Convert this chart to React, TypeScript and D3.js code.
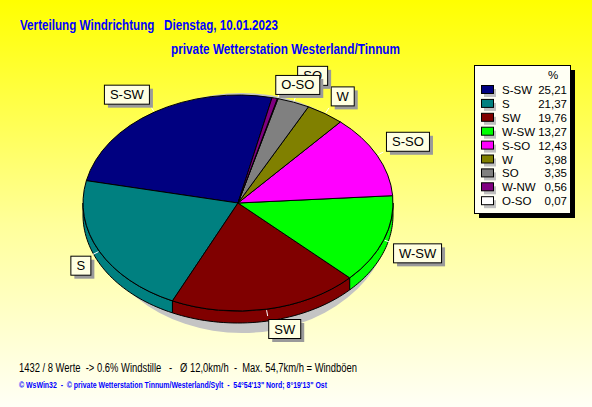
import * as d3 from 'd3';

// wind direction shares, in the order they run round the pie (counter-clockwise)
const directions = ['S-SW', 'S', 'SW', 'W-SW', 'S-SO', 'W', 'SO', 'O-SO', 'W-NW'];
const shares = [25.21, 21.37, 19.76, 13.27, 12.43, 3.98, 3.35, 0.07, 0.56];
const sliceColors = ['#000080', '#008080', '#800000', '#00ff00', '#ff00ff', '#808000', '#808080', '#ffffff', '#800080'];
// legend order (by share)
const legendOrder = ['S-SW', 'S', 'SW', 'W-SW', 'S-SO', 'W', 'SO', 'W-NW', 'O-SO'];
const pieLabels = ['S-SW', 'S', 'SW', 'W-SW', 'S-SO', 'W', 'SO', 'O-SO'];

const title1 = 'Verteilung Windrichtung   Dienstag, 10.01.2023';
const title2 = 'private Wetterstation Westerland/Tinnum';
const footer1 = '1432 / 8 Werte  -> 0.6% Windstille   -   Ø 12,0km/h  -  Max. 54,7km/h = Windböen';
const footer2 = '© WsWin32  -  © private Wetterstation Tinnum/Westerland/Sylt  -  54°54\'13" Nord; 8°19\'13" Ost';

const W = 592;
const H = 407;
const cx = 238;
const cy = 203;
const rx = 155;
const ry = 108;
const depth = 12;
const startDeg = 12.7;
const font = "'Liberation Sans', Arial, sans-serif";

let ctx: CanvasRenderingContext2D | null = null;
function textWidth(s: string, size: number) {
  if (!ctx) ctx = document.createElement('canvas').getContext('2d');
  if (!ctx) return s.length * size * 0.6;
  ctx.font = `${size}px ${font}`;
  return ctx.measureText(s).width;
}

const ex = (a: number, r = rx) => cx + r * Math.sin(a);
const ey = (a: number, r = ry) => cy - r * Math.cos(a);

export default function App() {
  const data = directions.map((d, i) => ({ dir: d, value: shares[i], color: sliceColors[i] }));
  const a0 = (startDeg * Math.PI) / 180;
  const arcs = d3
    .pie<{ dir: string; value: number; color: string }>()
    .sort(null)
    .value((d) => d.value)
    .startAngle(a0)
    .endAngle(a0 - 2 * Math.PI)(data);

  const arcGen = d3.arc<d3.PieArcDatum<any>>().innerRadius(0).outerRadius(rx);

  // side walls for the front half of the ellipse
  const walls: { path: string; color: string }[] = [];
  arcs.forEach((a) => {
    const lo = Math.min(a.startAngle, a.endAngle);
    const hi = Math.max(a.startAngle, a.endAngle);
    for (let k = -2; k <= 1; k++) {
      const f0 = Math.PI / 2 + 2 * Math.PI * k;
      const f1 = (3 * Math.PI) / 2 + 2 * Math.PI * k;
      const s = Math.max(lo, f0);
      const e = Math.min(hi, f1);
      if (e <= s) continue;
      const n = 40;
      const pts = d3.range(n + 1).map((i) => s + ((e - s) * i) / n);
      const top = pts.map((t) => [ex(t), ey(t)]);
      const bot = pts.slice().reverse().map((t) => [ex(t), ey(t) + depth]);
      const line = d3.line();
      walls.push({ path: line([...top, ...bot] as [number, number][]) + 'Z', color: a.data.color });
    }
  });

  // label boxes
  type Box = { dir: string; x: number; y: number; w: number; h: number; mid: number };
  const boxes: Box[] = [];
  const overlaps = (p: Box, q: Box) =>
    p.x < q.x + q.w && q.x < p.x + p.w && p.y < q.y + q.h && q.y < p.y + p.h;
  arcs.forEach((a) => {
    if (!pieLabels.includes(a.data.dir)) return;
    const mid = (a.startAngle + a.endAngle) / 2;
    const w = Math.round(textWidth(a.data.dir, 13) + 11);
    const h = 19;
    const axp = ex(mid, rx + 10);
    const ayp = ey(mid, ry + 10);
    const b: Box = {
      dir: a.data.dir,
      x: Math.sin(mid) < 0 ? axp - w : axp,
      y: Math.cos(mid) > 0 ? ayp - h : ayp,
      w,
      h,
      mid,
    };
    boxes.forEach((o) => {
      if (overlaps(b, o)) {
        o.y -= 8;
        b.y += 5;
        b.x -= 5;
      }
    });
    boxes.push(b);
  });

  const legendX = 474;
  const legendY = 65;
  const legendW = 96;
  const legendH = 148;
  const rowStep = 13.9;
  const firstRow = 94;

  return (
    <svg width={W} height={H} style={{ position: 'fixed', left: 0, top: 0 }} fontFamily={font}>
      <defs>
        <linearGradient id="bg" x1="0" y1="0" x2="0" y2="1">
          <stop offset="0" stopColor="#ffff00" />
          <stop offset="0.55" stopColor="#ffff9a" />
          <stop offset="1" stopColor="#fffff6" />
        </linearGradient>
      </defs>
      <rect width={W} height={H} fill="url(#bg)" />

      <text x={20} y={30} fontSize={14} fontWeight="bold" fill="#0000ff" textLength={258} lengthAdjust="spacingAndGlyphs" xmlSpace="preserve">
        {title1}
      </text>
      <text x={171} y={54} fontSize={14} fontWeight="bold" fill="#0000ff" textLength={229} lengthAdjust="spacingAndGlyphs">
        {title2}
      </text>

      {/* pie shadow */}
      <ellipse cx={cx + 4} cy={cy + depth / 2 + 4} rx={rx - 6} ry={ry + depth / 2 + 6} fill="#c4c4c4" />

      {walls.map((w, i) => (
        <path key={'w' + i} d={w.path} fill={w.color} stroke="#000" strokeWidth={1} />
      ))}

      <g transform={`translate(${cx},${cy}) scale(1,${ry / rx})`}>
        {arcs.map((a) => (
          <path
            key={a.data.dir}
            d={arcGen(a) ?? ''}
            fill={a.data.color}
            stroke="#000"
            strokeWidth={1}
            vectorEffect="non-scaling-stroke"
          />
        ))}
      </g>

      {boxes.map((b) => (
        <line
          key={'l' + b.dir}
          x1={ex(b.mid, rx + 1)}
          y1={ey(b.mid, ry + 1)}
          x2={ex(b.mid, rx + 7)}
          y2={ey(b.mid, ry + 7)}
          stroke="#fff"
          strokeWidth={1}
        />
      ))}
      {boxes.map((b) => (
        <g key={'b' + b.dir}>
          <rect x={b.x + 4} y={b.y + 4} width={b.w} height={b.h} fill="#9a9a9a" />
          <rect x={b.x + 0.5} y={b.y + 0.5} width={b.w} height={b.h} fill="#ffffe1" stroke="#000" strokeWidth={1} />
          <text x={b.x + b.w / 2 + 0.5} y={b.y + 14.5} fontSize={13} textAnchor="middle" fill="#000">
            {b.dir}
          </text>
        </g>
      ))}

      {/* legend */}
      <rect x={legendX + 5} y={legendY + 5} width={legendW} height={legendH} fill="#000" />
      <rect x={legendX + 0.5} y={legendY + 0.5} width={legendW} height={legendH} fill="#fffff4" stroke="#000" strokeWidth={1} />
      <text x={553} y={79} fontSize={11.5} textAnchor="middle">%</text>
      {legendOrder.map((dir, i) => {
        const j = directions.indexOf(dir);
        const y = firstRow + i * rowStep;
        return (
          <g key={'lg' + dir}>
            <rect x={484} y={y - 5} width={12} height={8} fill="#c0c0c0" />
            <rect x={481.5} y={y - 8.5} width={12} height={8} fill={sliceColors[j]} stroke="#000" strokeWidth={1} />
            <text x={502} y={y} fontSize={11.5}>{dir}</text>
            <text x={567} y={y} fontSize={11.5} textAnchor="end">
              {shares[j].toFixed(2).replace('.', ',')}
            </text>
          </g>
        );
      })}

      <text x={19} y={372} fontSize={12} fill="#000" textLength={338} lengthAdjust="spacingAndGlyphs" xmlSpace="preserve">
        {footer1}
      </text>
      <text x={19} y={388} fontSize={9} fontWeight="bold" fill="#0000ff" textLength={308} lengthAdjust="spacingAndGlyphs" xmlSpace="preserve">
        {footer2}
      </text>
    </svg>
  );
}
